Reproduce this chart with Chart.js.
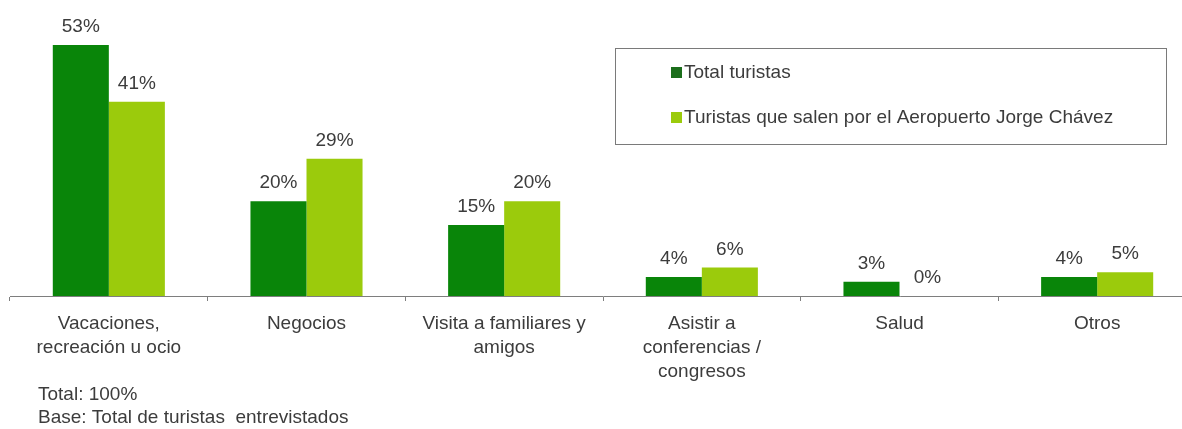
<!DOCTYPE html>
<html lang="es">
<head>
<meta charset="utf-8">
<title>Motivo de viaje de los turistas</title>
<script src="https://cdn.jsdelivr.net/npm/chart.js@4.4.1/dist/chart.umd.min.js"></script>
<style>
  html, body { margin: 0; padding: 0; background: #ffffff; overflow: hidden; }
  #wrap { position: relative; width: 1196px; height: 429px; }
  canvas { display: block; }
</style>
</head>
<body>
<div id="wrap"><canvas id="chart" width="1196" height="429"></canvas></div>
<script>
// Motivos de viaje (porcentaje de turistas)
const categories = [
  ['Vacaciones,', 'recreación u ocio'],
  'Negocios',
  ['Visita a familiares y', 'amigos'],
  ['Asistir a', 'conferencias /', 'congresos'],
  'Salud',
  'Otros'
];
const totalTuristas = [53, 20, 15, 4, 3, 4];
const turistasAeropuerto = [41, 29, 20, 6, 0, 5];
const seriesNames = ['Total turistas', 'Turistas que salen por el Aeropuerto Jorge Chávez'];
const footnotes = ['Total: 100%', 'Base: Total de turistas  entrevistados'];

const FONT = '"Liberation Sans", Arial, sans-serif';
const TEXT = '#3c3c3c';
const DARK = '#098509';
const LIGHT = '#9bcb0c';

// Percent labels above each bar, positioned from the bar elements
const valueLabels = {
  id: 'valueLabels',
  afterDatasetsDraw(chart) {
    const ctx = chart.ctx;
    ctx.save();
    ctx.font = '19px ' + FONT;
    ctx.fillStyle = TEXT;
    ctx.textAlign = 'center';
    ctx.textBaseline = 'alphabetic';
    chart.data.datasets.forEach((ds, di) => {
      const meta = chart.getDatasetMeta(di);
      meta.data.forEach((bar, i) => {
        ctx.fillText(ds.data[i] + '%', bar.x, bar.y - 13);
      });
    });
    ctx.restore();
  }
};

// Boxed legend and footnotes
const decorations = {
  id: 'decorations',
  afterDraw(chart) {
    const ctx = chart.ctx;
    ctx.save();
    ctx.strokeStyle = '#7a7a7a';
    ctx.lineWidth = 1;
    ctx.strokeRect(615.5, 48.5, 551, 96);
    ctx.font = '19px ' + FONT;
    ctx.textBaseline = 'middle';
    ctx.textAlign = 'left';
    const rows = [72, 117];
    chart.data.datasets.forEach((ds, i) => {
      ctx.fillStyle = i === 0 ? '#1b6e1b' : LIGHT;
      ctx.fillRect(671, rows[i] - 5, 11, 11);
      ctx.fillStyle = TEXT;
      ctx.fillText(ds.label, 684, rows[i] + 1);
    });
    ctx.fillText(footnotes[0], 38, 395);
    ctx.fillText(footnotes[1], 38, 418);
    ctx.restore();
  }
};

new Chart(document.getElementById('chart'), {
  type: 'bar',
  data: {
    labels: categories,
    datasets: [
      { label: seriesNames[0], data: totalTuristas, backgroundColor: DARK },
      { label: seriesNames[1], data: turistasAeropuerto, backgroundColor: LIGHT }
    ]
  },
  options: {
    responsive: false,
    animation: false,
    devicePixelRatio: 1,
    layout: { padding: { left: 10, right: 0, top: 0, bottom: 0 } },
    categoryPercentage: 0.567,
    barPercentage: 1.0,
    plugins: {
      legend: { display: false },
      tooltip: { enabled: false }
    },
    scales: {
      x: {
        offset: true,
        grid: {
          display: true,
          offset: true,
          drawOnChartArea: false,
          drawTicks: true,
          tickLength: 5,
          color: '#7e7e7e'
        },
        border: { display: true, color: '#7e7e7e', width: 1 },
        ticks: {
          color: TEXT,
          font: { family: FONT, size: 19, lineHeight: 1.25 },
          padding: 11,
          maxRotation: 0,
          autoSkip: false
        },
        afterFit(scale) { scale.height = 133; }
      },
      y: {
        display: false,
        min: 0,
        max: 62.5
      }
    }
  },
  plugins: [valueLabels, decorations]
});
</script>
</body>
</html>
